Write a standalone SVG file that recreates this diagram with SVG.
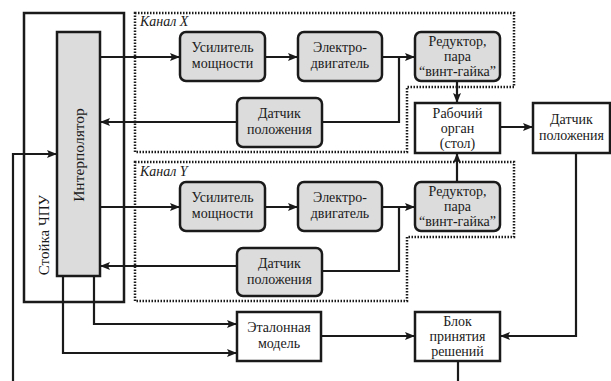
<svg xmlns="http://www.w3.org/2000/svg" width="611" height="381" viewBox="0 0 611 381" font-family="'Liberation Serif', 'DejaVu Serif', serif">
<defs>
<marker id="ah" viewBox="0 0 10 8" refX="10" refY="4" markerWidth="10" markerHeight="8" markerUnits="userSpaceOnUse" orient="auto">
<path d="M0,0 L10,4 L0,8 L2,4 Z" fill="#1a1a1a"/>
</marker>
<style>
text{font-family:'Liberation Serif','DejaVu Serif',serif}
.t{font-size:14px;fill:#1a1a1a;text-anchor:middle}
.lbl{font-size:14px;font-style:italic;fill:#1a1a1a}
.g{fill:#dcdcdc;stroke:#1a1a1a;stroke-width:2.5}
.w{fill:#fff;stroke:#1a1a1a;stroke-width:2.5}
.dot{fill:none;stroke:#1a1a1a;stroke-width:2.5;stroke-dasharray:1.5 1.5}
.c{fill:none;stroke:#1a1a1a;stroke-width:2.2}
.a{marker-end:url(#ah)}
</style>
</defs>
<rect width="611" height="381" fill="#fff"/>
<g id="stoyka">
<rect x="24" y="13" width="100" height="289" fill="none" stroke="#1a1a1a" stroke-width="2.5"/>
<text class="t" transform="translate(49,235) rotate(-90)" style="font-size:15px">Стойка ЧПУ</text>
</g>
<g id="kanalX">
<path class="dot" d="M135,13 H514 V87 H407 V152 H135 Z"/>
<text class="lbl" x="140" y="26">Канал X</text>
</g>
<g id="kanalY">
<path class="dot" d="M135,162 H514 V237 H407 V301 H135 Z"/>
<text class="lbl" x="140" y="176">Канал Y</text>
</g>
<g id="interp">
<rect class="g" x="57" y="32" width="43" height="244"/>
<text class="t" transform="translate(84,155) rotate(-90)" style="font-size:15.5px">Интерполятор</text>
</g>
<g id="connectors">
<path class="c a" d="M100,57 H180"/>
<path class="c a" d="M265,57 H298"/>
<path class="c a" d="M382,57 H415"/>
<path class="c" d="M322,122 H399 V57"/>
<path class="c a" d="M237,122 H100"/>
<path class="c a" d="M457,81 V103"/>
<path class="c a" d="M100,207 H180"/>
<path class="c a" d="M265,207 H298"/>
<path class="c a" d="M382,207 H415"/>
<path class="c" d="M322,271 H399 V207"/>
<path class="c a" d="M237,266 H100"/>
<path class="c a" d="M457,182 V153"/>
<path class="c a" d="M500,127 H533"/>
<path class="c a" d="M576,153 V336 H500"/>
<path class="c a" d="M94,276 V324 H237"/>
<path class="c a" d="M63,276 V353 H237"/>
<path class="c a" d="M321,336 H415"/>
<path class="c" d="M458,361 V381"/>
<path class="c a" d="M13,381 V154 H57"/>
</g>
<g id="usilX">
<rect class="g" x="180" y="32" width="85" height="49" rx="6"/>
<text class="t" x="222.5" y="52">Усилитель</text>
<text class="t" x="222.5" y="68">мощности</text>
</g>
<g id="dvigX">
<rect class="g" x="298" y="32" width="84" height="49" rx="6"/>
<text class="t" x="340" y="52">Электро-</text>
<text class="t" x="340" y="68">двигатель</text>
</g>
<g id="redX">
<rect class="g" x="415" y="32" width="85" height="49" rx="6"/>
<text class="t" x="457.5" y="46">Редуктор,</text>
<text class="t" x="457.5" y="61">пара</text>
<text class="t" x="457.5" y="76">“винт-гайка”</text>
</g>
<g id="datX">
<rect class="g" x="237" y="98" width="85" height="49" rx="6"/>
<text class="t" x="279.5" y="118">Датчик</text>
<text class="t" x="279.5" y="134">положения</text>
</g>
<g id="usilY">
<rect class="g" x="180" y="182" width="85" height="49" rx="6"/>
<text class="t" x="222.5" y="202">Усилитель</text>
<text class="t" x="222.5" y="218">мощности</text>
</g>
<g id="dvigY">
<rect class="g" x="298" y="182" width="84" height="49" rx="6"/>
<text class="t" x="340" y="202">Электро-</text>
<text class="t" x="340" y="218">двигатель</text>
</g>
<g id="redY">
<rect class="g" x="415" y="182" width="85" height="49" rx="6"/>
<text class="t" x="457.5" y="196">Редуктор,</text>
<text class="t" x="457.5" y="211">пара</text>
<text class="t" x="457.5" y="226">“винт-гайка”</text>
</g>
<g id="datY">
<rect class="g" x="237" y="248" width="85" height="48" rx="6"/>
<text class="t" x="279.5" y="268">Датчик</text>
<text class="t" x="279.5" y="284">положения</text>
</g>
<g id="rabochiy">
<rect class="w" x="415" y="103" width="85" height="50"/>
<text class="t" x="457.5" y="118">Рабочий</text>
<text class="t" x="457.5" y="133">орган</text>
<text class="t" x="457.5" y="148">(стол)</text>
</g>
<g id="datchik">
<rect class="w" x="533" y="103" width="77" height="50"/>
<text class="t" x="571.5" y="124">Датчик</text>
<text class="t" x="571.5" y="140">положения</text>
</g>
<g id="etalon">
<rect class="w" x="237" y="312" width="84" height="49"/>
<text class="t" x="279" y="332">Эталонная</text>
<text class="t" x="279" y="348">модель</text>
</g>
<g id="blok">
<rect class="w" x="415" y="312" width="85" height="49"/>
<text class="t" x="457.5" y="326">Блок</text>
<text class="t" x="457.5" y="341">принятия</text>
<text class="t" x="457.5" y="356">решений</text>
</g>
</svg>
